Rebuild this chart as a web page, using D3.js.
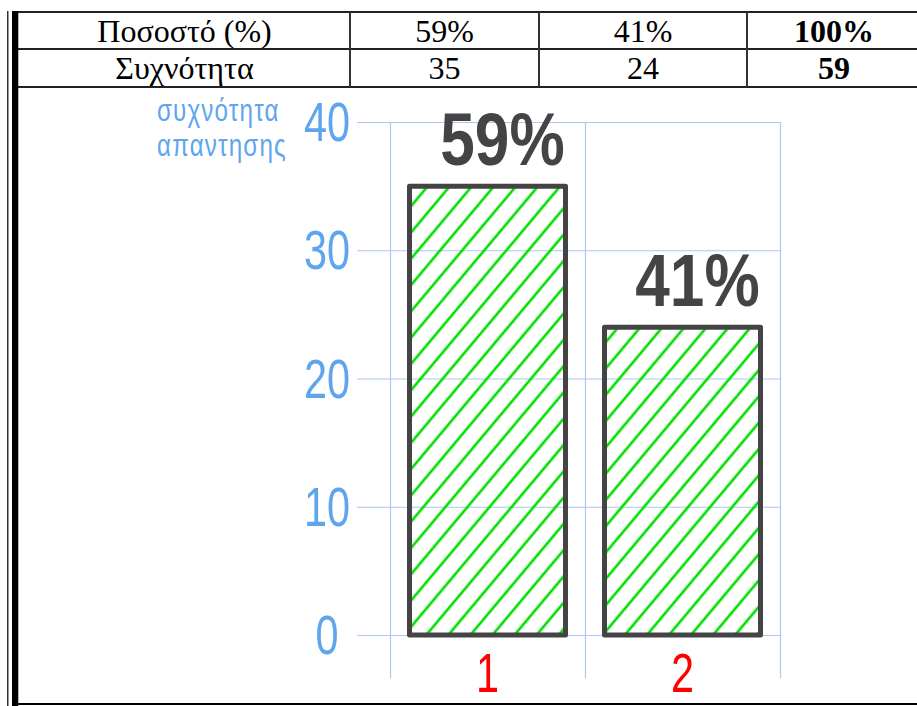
<!DOCTYPE html>
<html>
<head>
<meta charset="utf-8">
<script src="https://cdn.jsdelivr.net/npm/d3@7"></script>
<style>
  body { margin: 0; background: #fff; }
  svg { display: block; }
</style>
</head>
<body>
<div id="chart"></div>
<script>
// Data
const categories = ["1", "2"];
const counts = [35, 24];
const percentLabels = ["59%", "41%"];
const yTicks = [0, 10, 20, 30, 40];
const tableHeader = ["Ποσοστό (%)", "59%", "41%", "100%"];
const tableCounts = ["Συχνότητα", "35", "24", "59"];
const yTitle = ["συχνότητα", "απαντησης"];

const W = 917, H = 706;
// no narrow font installed, so squeeze Liberation Sans horizontally
const sans = "'Liberation Sans', Arial, sans-serif";
const blue = "#5fa5ee";
const grid = "#a9c9f2";

const svg = d3.select("#chart").append("svg")
    .attr("width", W)
    .attr("height", H);

// hatching pattern
const defs = svg.append("defs");
defs.append("pattern")
    .attr("id", "hatch")
    .attr("patternUnits", "userSpaceOnUse")
    .attr("width", 16.9)
    .attr("height", 20)
    .attr("patternTransform", "rotate(40)")
  .append("line")
    .attr("x1", 8).attr("y1", -2)
    .attr("x2", 8).attr("y2", 22)
    .attr("stroke", "#00dd00")
    .attr("stroke-width", 2.6);

// Table
const colEdges = [19, 350, 539, 747, 921];
const rowEdges = [12, 49, 87];
const rows = [tableHeader, tableCounts];

const table = svg.append("g");
rowEdges.forEach(y => {
    table.append("line")
        .attr("x1", 18).attr("x2", W)
        .attr("y1", y).attr("y2", y)
        .attr("stroke", "#222").attr("stroke-width", 2);
});
colEdges.slice(1, 4).forEach(x => {
    table.append("line")
        .attr("x1", x).attr("x2", x)
        .attr("y1", rowEdges[0]).attr("y2", rowEdges[2])
        .attr("stroke", "#333").attr("stroke-width", 2);
});
rows.forEach((row, r) => {
    row.forEach((txt, c) => {
        table.append("text")
            .attr("x", (colEdges[c] + colEdges[c + 1]) / 2)
            .attr("y", rowEdges[r] + 30)
            .attr("text-anchor", "middle")
            .style("font-family", "'Liberation Serif', 'Times New Roman', serif")
            .style("font-size", "32px")
            .style("font-weight", c === 3 ? "bold" : "normal")
            .attr("fill", "#000")
            .text(txt);
    });
});

// left frame lines
svg.append("line").attr("x1", 7.8).attr("x2", 7.8).attr("y1", 11).attr("y2", H)
    .attr("stroke", "#000").attr("stroke-width", 1.2);
svg.append("rect").attr("x", 12).attr("y", 11).attr("width", 6.3).attr("height", H - 11)
    .attr("fill", "#000");
svg.append("line").attr("x1", 12).attr("x2", W).attr("y1", 704).attr("y2", 704)
    .attr("stroke", "#000").attr("stroke-width", 2);

// Chart
const x = d3.scaleBand()
    .domain(categories)
    .range([390, 780])
    .paddingInner(0.2)
    .paddingOuter(0.1);

const y = d3.scaleLinear()
    .domain([0, 40])
    .range([635, 122]);

const g = svg.append("g");

// horizontal grid
g.selectAll(".hgrid")
    .data(yTicks)
    .enter().append("line")
    .attr("x1", 357).attr("x2", 781)
    .attr("y1", d => y(d) + 0.5).attr("y2", d => y(d) + 0.5)
    .attr("stroke", grid).attr("stroke-width", 1.2);

// vertical grid at band edges
const edges = [0, 1, 2].map(i => x.range()[0] + i * x.step());
g.selectAll(".vgrid")
    .data(edges)
    .enter().append("line")
    .attr("x1", d => d + 0.5).attr("x2", d => d + 0.5)
    .attr("y1", y(40)).attr("y2", 678)
    .attr("stroke", grid).attr("stroke-width", 1.2);

// y tick labels
g.selectAll(".ytick")
    .data(yTicks)
    .enter().append("text")
    .attr("transform", d => `translate(327,${y(d) + 19}) scale(0.74,1)`)
    .attr("text-anchor", "middle")
    .style("font-family", sans)
    .style("font-size", "56px")
    .attr("fill", blue)
    .text(d => d);

// y title
yTitle.forEach((t, i) => {
    g.append("text")
        .attr("transform", `translate(157,${121 + i * 35}) scale(0.78,1)`)
        .style("font-family", sans)
        .style("font-size", "31px")
        .style("letter-spacing", "1.5px")
        .attr("fill", blue)
        .text(t);
});

// bars
g.selectAll(".bar")
    .data(counts)
    .enter().append("rect")
    .attr("x", (d, i) => x(categories[i]))
    .attr("y", d => y(d))
    .attr("width", x.bandwidth())
    .attr("height", d => y(0) - y(d))
    .attr("fill", "url(#hatch)")
    .attr("stroke", "#444")
    .attr("stroke-width", 5)
    .attr("stroke-linejoin", "round");

// percent labels
g.selectAll(".pct")
    .data(counts)
    .enter().append("text")
    .attr("transform", (d, i) =>
        `translate(${x(categories[i]) + x.bandwidth() / 2 + 15},${y(d) - 21}) scale(0.84,1)`)
    .attr("text-anchor", "middle")
    .style("font-family", sans)
    .style("font-size", "74px")
    .style("font-weight", "bold")
    .attr("fill", "#444")
    .text((d, i) => percentLabels[i]);

// x labels
g.selectAll(".xlab")
    .data(categories)
    .enter().append("text")
    .attr("transform", d => `translate(${x(d) + x.bandwidth() / 2},692) scale(0.74,1)`)
    .attr("text-anchor", "middle")
    .style("font-family", sans)
    .style("font-size", "56px")
    .attr("fill", "#ff0000")
    .text(d => d);
</script>
</body>
</html>
